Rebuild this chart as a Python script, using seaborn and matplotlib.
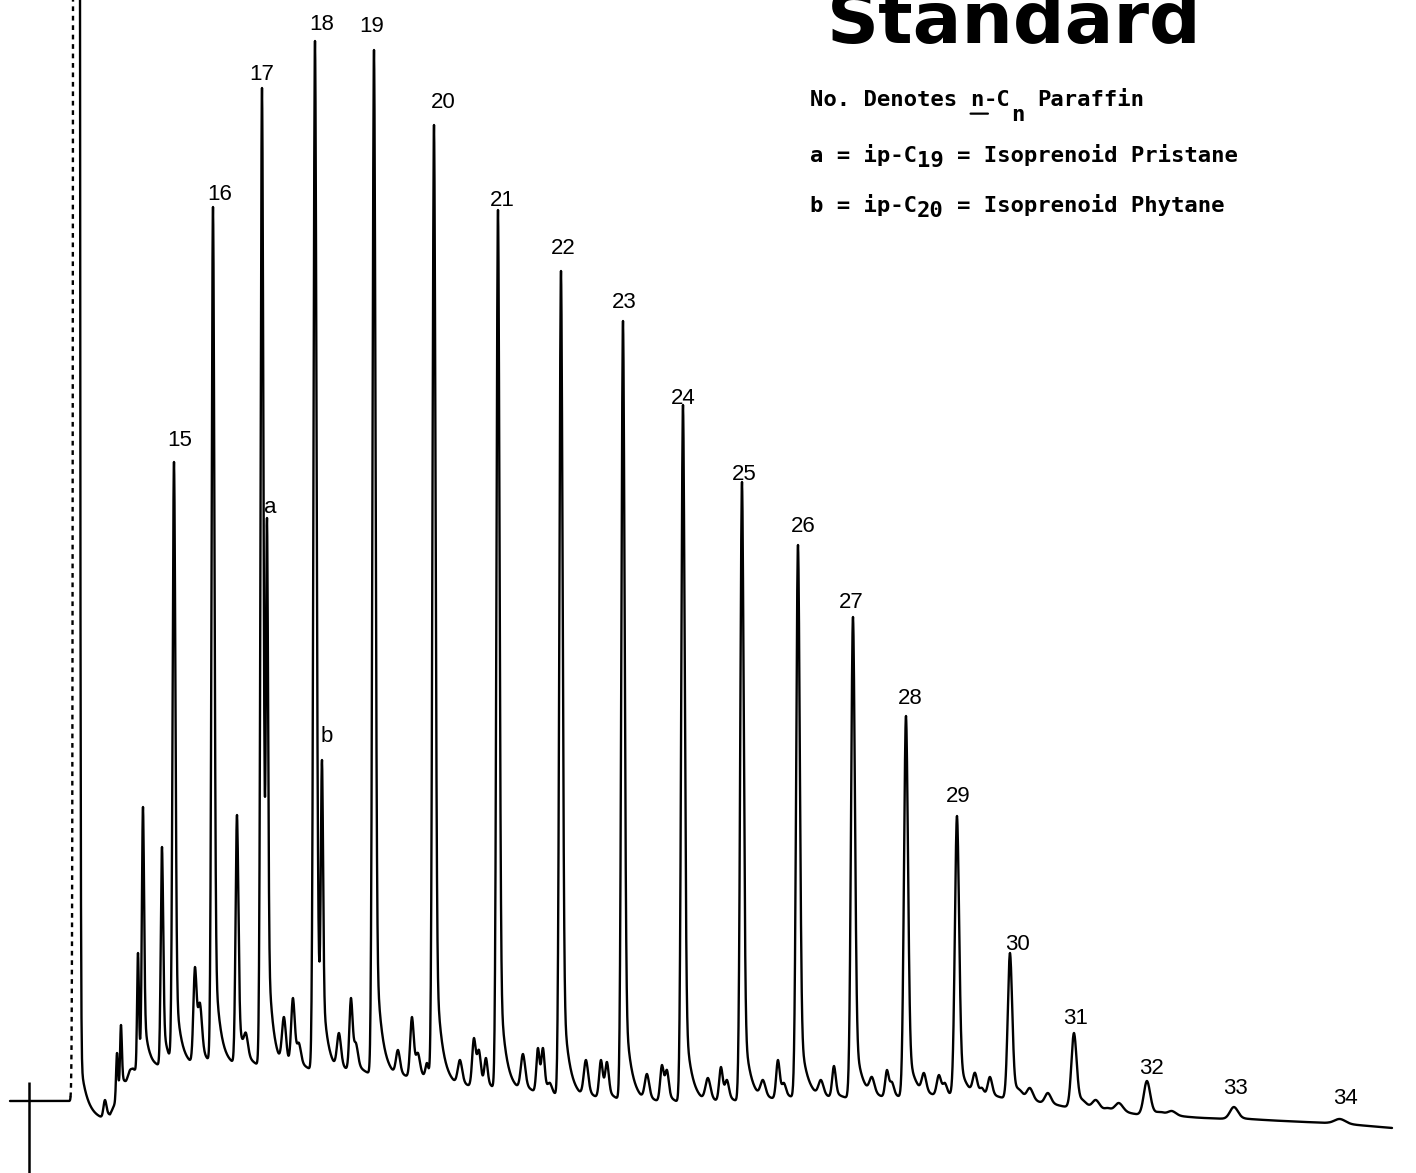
import numpy as np
import pandas as pd
import matplotlib
matplotlib.use("Agg")
import matplotlib.pyplot as plt
import seaborn as sns

# Recorder chart: x = retention position, y = detector response (chart units)
CHART_W, CHART_H = 1416, 1173

# Labelled peaks: n-paraffins C15-C34 plus pristane (a) and phytane (b)
peak_names = ["15", "16", "17", "a", "18", "b", "19", "20", "21", "22", "23",
              "24", "25", "26", "27", "28", "29", "30", "31", "32", "33", "34"]
peak_rt = [174, 213, 262, 267, 315, 322, 374, 434, 498, 561, 623,
           683, 742, 798, 853, 906, 957, 1010, 1074, 1147, 1234, 1340]
peak_resp = [711, 966, 1085, 655, 1132, 413, 1123, 1048, 963, 902, 852,
             768, 691, 628, 556, 457, 357, 220, 140, 92, 66, 54]
peak_sigma = [1.4, 1.4, 1.4, 1.1, 1.5, 1.1, 1.5, 1.5, 1.5, 1.6, 1.6,
              1.7, 1.7, 1.8, 1.9, 2.0, 2.1, 2.2, 2.6, 3.2, 4.0, 5.5]

# Unlabelled minor components
minor_rt = [105, 117, 121, 130, 138, 143, 162, 195, 200, 237, 246, 284, 293, 299,
            339, 351, 356, 398, 412, 418, 427, 460, 474, 479, 486, 523, 538, 543,
            550, 586, 601, 607, 647, 662, 667, 708, 721, 727, 763, 778, 784, 821,
            834, 872, 887, 892, 917, 924, 939, 945, 966, 975, 982, 990, 1020, 1030,
            1048, 1083, 1096, 1108, 1119, 1161, 1172]
minor_resp = [73, 120, 148, 103, 220, 366, 326, 206, 170, 358, 140, 156, 175, 130,
              140, 175, 130, 123, 156, 120, 110, 113, 135, 123, 115, 119, 125, 125,
              90, 113, 113, 111, 99, 108, 103, 95, 106, 93, 93, 113, 90, 93,
              107, 96, 103, 91, 90, 100, 98, 90, 88, 100, 85, 96, 83, 85,
              80, 73, 73, 65, 70, 61, 62]
minor_sigma = [1.5, 0.9, 0.9, 2.0, 0.9, 1.1, 1.2, 1.6, 2.0, 1.4, 2.0, 2.0, 1.8, 2.0,
               2.0, 1.6, 2.0, 2.0, 1.8, 2.0, 1.5, 2.2, 1.8, 1.8, 1.6, 2.2, 1.6, 1.6,
               2.0, 2.2, 1.8, 1.8, 2.2, 1.8, 1.8, 2.5, 1.8, 2.0, 2.5, 1.8, 2.0, 2.5,
               1.8, 2.5, 1.8, 2.0, 2.5, 2.2, 2.2, 2.0, 2.5, 2.2, 2.0, 2.2, 3.0, 3.0,
               3.0, 3.5, 3.5, 3.0, 4.0, 4.0, 4.0]

# Baseline (unresolved envelope) under the peaks
base_rt = [10, 73, 80, 102, 110, 118, 126, 133, 150, 200, 250, 300, 350, 400, 430,
           460, 495, 525, 555, 618, 678, 738, 793, 845, 900, 954, 1002, 1062, 1137,
           1200, 1260, 1328, 1392]
base_resp = [72, 72, 54, 53, 56, 76, 86, 101, 106, 107, 107, 102, 100, 95, 92,
             86, 82, 81, 76, 72, 69, 70, 74, 74, 74, 76, 74, 66, 58,
             55, 53, 50, 45]

# Injection mark and solvent front
injection_rt = 29
solvent_rt = 76.5

# Label placement: x shift and baseline height above the peak top
label_dx = [6, 7, 0, 3, 7, 5, -2, 9, 4, 2, 1, 0, 2, 5, -2, 4, 1, 7, 2, 4, 1, 5]
label_dy = [16.5, 6.5, 8.5, 5, 10.5, 18, 18.5, 17.5, 4.5, 16.5, 12.5, 0.5, 1.5,
            13.5, 9.5, 12.5, 13.5, 3.5, 9.5, 6.5, 13.5, 14.5]


def tailed_peak(x, x0, s, f, tau):
    d = x - x0
    g = np.exp(-0.5 * (d / s) ** 2)
    t = np.where(d >= 0, np.exp(-np.clip(d, 0, None) / tau), g)
    return (1 - f) * g + f * t


x = np.arange(10, 1392.001, 0.25)
base = np.interp(x, base_rt, base_resp)

all_rt = np.array(peak_rt + minor_rt, dtype=float)
all_resp = np.array(peak_resp + minor_resp, dtype=float)
all_sig = np.array(peak_sigma + minor_sigma, dtype=float)
is_major = np.r_[np.ones(len(peak_rt)), np.zeros(len(minor_rt))].astype(bool)

shapes = np.stack([
    tailed_peak(x, r, s, 0.17 if m else 0.25, (3.2 * s + 1) if m else (3.0 * s + 1))
    for r, s, m in zip(all_rt, all_sig, is_major)
])

solvent = 20000 * np.exp(-0.5 * ((x - solvent_rt) / 1.45) ** 2)
solvent += np.where(x >= solvent_rt, 100 * np.exp(-(x - solvent_rt) / 7.0), 0)

# Solve peak amplitudes so the summed trace passes through each peak top
idx = np.searchsorted(x, all_rt)
M = shapes[:, idx].T
target = all_resp - base[idx] - solvent[idx]
heights = np.clip(np.linalg.solve(M, target), 0, None)

trace = base + heights @ shapes + solvent

rise_start = 70.5
frames = []
for name, mask in [("pre", x <= rise_start),
                   ("rise", (x >= rise_start) & (x <= solvent_rt)),
                   ("run", x >= solvent_rt)]:
    frames.append(pd.DataFrame({"rt": x[mask], "resp": trace[mask], "segment": name}))
df = pd.concat(frames, ignore_index=True)

sns.set_theme(style="white")
fig = plt.figure(figsize=(CHART_W / 100, CHART_H / 100), dpi=100)
ax = fig.add_axes([0, 0, 1, 1])
ax.set_xlim(0, CHART_W)
ax.set_ylim(0, CHART_H)
ax.axis("off")

sns.lineplot(data=df, x="rt", y="resp", style="segment",
             dashes={"pre": "", "rise": (2, 2), "run": ""},
             color="black", linewidth=1.7, estimator=None, sort=True,
             legend=False, ax=ax)

# injection mark
ax.vlines(injection_rt, 0, 91, color="black", linewidth=1.8)

# peak labels
for name, rt, resp, dx, dy in zip(peak_names, peak_rt, peak_resp, label_dx, label_dy):
    ax.text(rt + dx, resp + dy, name, ha="center", va="baseline",
            family="Liberation Sans", fontsize=16, color="black")

# title
ax.text(827, CHART_H - 43, "Standard", ha="left", va="baseline",
        family="DejaVu Sans", fontweight="bold", fontsize=52, color="black")

# key: monospace pieces placed by character cell
mono = dict(family="DejaVu Sans Mono", fontweight="bold", fontsize=16, color="black")
adv = 0.60205 * 16  # monospace advance, points
key_x = 810
key_lines = [
    (CHART_H - 106, [(0, "No. Denotes", 0), (12, "n", 0), (13, "-C", 0),
                     (15, "n", -10.5), (17, "Paraffin", 0)], 12),
    (CHART_H - 162, [(0, "a = ip-C", 0), (8, "19", -3.6),
                     (11, "= Isoprenoid Pristane", 0)], None),
    (CHART_H - 212, [(0, "b = ip-C", 0), (8, "20", -3.6),
                     (11, "= Isoprenoid Phytane", 0)], None),
]
for y, pieces, underline in key_lines:
    for pos, s, drop in pieces:
        ax.annotate(s, xy=(key_x, y), xytext=(pos * adv, drop),
                    textcoords="offset points", ha="left", va="baseline", **mono)
    if underline is not None:
        ax.annotate("", xy=(key_x, y), xytext=(key_x, y),
                    xycoords=matplotlib.transforms.offset_copy(
                        ax.transData, fig=fig, x=(underline + 1.3) * adv, y=-5.5, units="points"),
                    textcoords=matplotlib.transforms.offset_copy(
                        ax.transData, fig=fig, x=underline * adv, y=-5.5, units="points"),
                    arrowprops=dict(arrowstyle="-", lw=1.6, color="black",
                                    shrinkA=0, shrinkB=0))

fig.savefig("out.png", dpi=100, facecolor="white")
